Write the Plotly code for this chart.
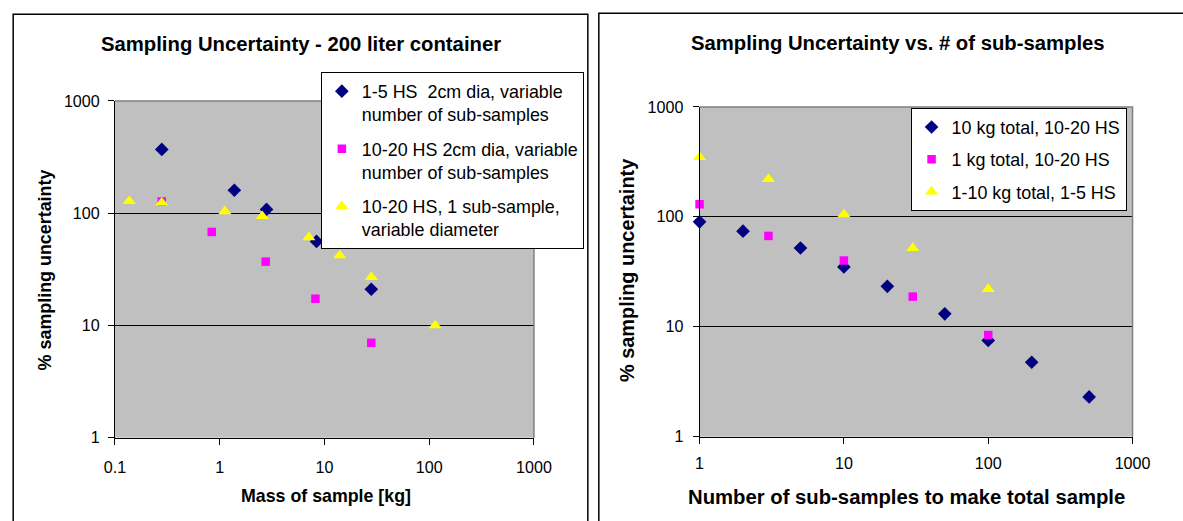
import plotly.graph_objects as go

# Figure size; the page is shown with an 8px body margin and a slight down-scale,
# so reference pixel positions are converted with the measured factors below.
W, H = 1195, 521
OFF = 8
SX, SY = 0.978, 0.969

# ---------- data (left chart) ----------
left_names = [
    "1-5 HS  2cm dia, variable<br>number of sub-samples",
    "10-20 HS 2cm dia, variable<br>number of sub-samples",
    "10-20 HS, 1 sub-sample,<br>variable diameter",
]
l1_x = [0.28, 1.38, 2.8, 8.4, 28]
l1_y = [370, 160, 108, 56, 21]
l2_x = [0.28, 0.84, 2.75, 8.2, 28]
l2_y = [127, 68, 37, 17.3, 7.0]
l3_x = [0.137, 0.28, 1.12, 2.55, 7.1, 14, 28, 114]
l3_y = [128, 124, 104, 94, 61, 42, 27, 10]

# ---------- data (right chart) ----------
right_names = [
    "10 kg total, 10-20 HS",
    "1 kg total, 10-20 HS",
    "1-10 kg total, 1-5 HS",
]
r1_x = [1, 2, 5, 10, 20, 50, 100, 200, 500]
r1_y = [90, 74, 52, 35, 23.3, 13.1, 7.5, 4.75, 2.3]
r2_x = [1, 3, 10, 30, 100]
r2_y = [130, 67, 40, 18.8, 8.4]
r3_x = [1, 3, 10, 30, 100]
r3_y = [350, 220, 105, 52, 22]

left_xticks = [0.1, 1, 10, 100, 1000]
left_xticktext = ["0.1", "1", "10", "100", "1000"]
right_xticks = [1, 10, 100, 1000]
right_xticktext = ["1", "10", "100", "1000"]
yticks = [1, 10, 100, 1000]
yticktext = ["1", "10", "100", "1000"]

titles = ["Sampling Uncertainty - 200 liter container",
          "Sampling Uncertainty vs. # of sub-samples"]
xtitles = ["Mass of sample [kg]", "Number of sub-samples to make total sample"]
ytitle = "% sampling uncertainty"

FONT = "Liberation Sans, Arial, sans-serif"
NAVY, MAG, YEL = "#000080", "#FF00FF", "#FFFF00"


def px(x):
    return (x / SX - OFF) / W


def py(y):
    return 1 - (y / SY - OFF) / H


fig = go.Figure()

styles = [("diamond", NAVY, 10.5), ("square", MAG, 8.5), ("triangle-up", YEL, 11.5)]

for (xs, ys), name, (sym, col, sz) in zip([(l1_x, l1_y), (l2_x, l2_y), (l3_x, l3_y)], left_names, styles):
    fig.add_trace(go.Scatter(x=xs, y=ys, mode="markers", name=name, cliponaxis=False,
                             marker=dict(symbol=sym, color=col, size=sz, line=dict(width=0)),
                             xaxis="x", yaxis="y", legend="legend", legendgroup=name))

for (xs, ys), name, (sym, col, sz) in zip([(r1_x, r1_y), (r2_x, r2_y), (r3_x, r3_y)], right_names, styles):
    fig.add_trace(go.Scatter(x=xs, y=ys, mode="markers", name=name, cliponaxis=False,
                             marker=dict(symbol=sym, color=col, size=sz, line=dict(width=0)),
                             xaxis="x2", yaxis="y2", legend="legend2", legendgroup=name))

# plot area geometry (reference pixels)
L = dict(x0=112, x1=532, y0=100, y1=438)
R = dict(x0=698, x1=1132, y0=106, y1=437)

axis_common = dict(type="log", showline=True, linecolor="black", linewidth=1,
                   ticks="outside", ticklen=6, tickcolor="black",
                   tickfont=dict(family=FONT, size=16.1, color="black"),
                   zeroline=False, mirror=False)

fig.update_layout(
    width=W, height=H, margin=dict(l=0, r=0, t=0, b=0),
    paper_bgcolor="white", plot_bgcolor="#C0C0C0",
    showlegend=True,
    xaxis=dict(domain=[px(L["x0"]), px(L["x1"])], range=[-1, 3], anchor="y",
               tickvals=left_xticks, ticktext=left_xticktext, showgrid=False,
               ticklabelstandoff=9, **axis_common),
    yaxis=dict(domain=[py(L["y1"]), py(L["y0"])], range=[0, 3], anchor="x",
               tickvals=yticks, ticktext=yticktext, showgrid=True, gridcolor="black",
               gridwidth=1, ticklabelstandoff=5, **axis_common),
    xaxis2=dict(domain=[px(R["x0"]), px(R["x1"])], range=[0, 3], anchor="y2",
                tickvals=right_xticks, ticktext=right_xticktext, showgrid=False,
                ticklabelstandoff=6, **axis_common),
    yaxis2=dict(domain=[py(R["y1"]), py(R["y0"])], range=[0, 3], anchor="x2",
                tickvals=yticks, ticktext=yticktext, showgrid=True, gridcolor="black",
                gridwidth=1, ticklabelstandoff=6, **axis_common),
    legend=dict(x=px(582), y=py(71), xanchor="right", yanchor="top",
                bgcolor="white", bordercolor="black", borderwidth=1,
                font=dict(family=FONT, size=17.9, color="black"),
                valign="top", tracegroupgap=8, itemwidth=30),
    legend2=dict(x=px(1126), y=py(107), xanchor="right", yanchor="top",
                 bgcolor="white", bordercolor="black", borderwidth=1,
                 font=dict(family=FONT, size=17.9, color="black"),
                 tracegroupgap=6, itemwidth=30),
)

shapes = []
# chart outer borders
shapes.append(dict(type="rect", xref="paper", yref="paper", x0=px(10), x1=px(586),
                   y0=py(560), y1=py(13), line=dict(color="black", width=1.5), layer="below"))
shapes.append(dict(type="rect", xref="paper", yref="paper", x0=px(597), x1=px(1260),
                   y0=py(560), y1=py(12), line=dict(color="black", width=1.5), layer="below"))
# plot area gray borders (top/right)
for g in (L, R):
    shapes.append(dict(type="path", xref="paper", yref="paper",
                       path=f"M {px(g['x0'])} {py(g['y0'])} L {px(g['x1'])} {py(g['y0'])} L {px(g['x1'])} {py(g['y1'])}",
                       line=dict(color="#808080", width=1.5)))
fig.update_layout(shapes=shapes)


def label(text, x, y, size, angle=0):
    return dict(text=text, x=px(x), y=py(y), xref="paper", yref="paper",
                xanchor="center", yanchor="middle", showarrow=False, textangle=angle,
                font=dict(family=FONT, size=size, color="black"))


ann = [
    label(f"<b>{titles[0]}</b>", 298, 43, 20.3),
    label(f"<b>{titles[1]}</b>", 897, 42, 20.3),
    label(f"<b>{xtitles[0]}</b>", 324, 497, 17.8),
    label(f"<b>{xtitles[1]}</b>", 905, 498, 20.3),
    label(f"<b>{ytitle}</b>", 42, 270, 17.9, -90),
    label(f"<b>{ytitle}</b>", 626, 270, 19.9, -90),
]
fig.update_layout(annotations=ann)

fig.write_html("out.html")
